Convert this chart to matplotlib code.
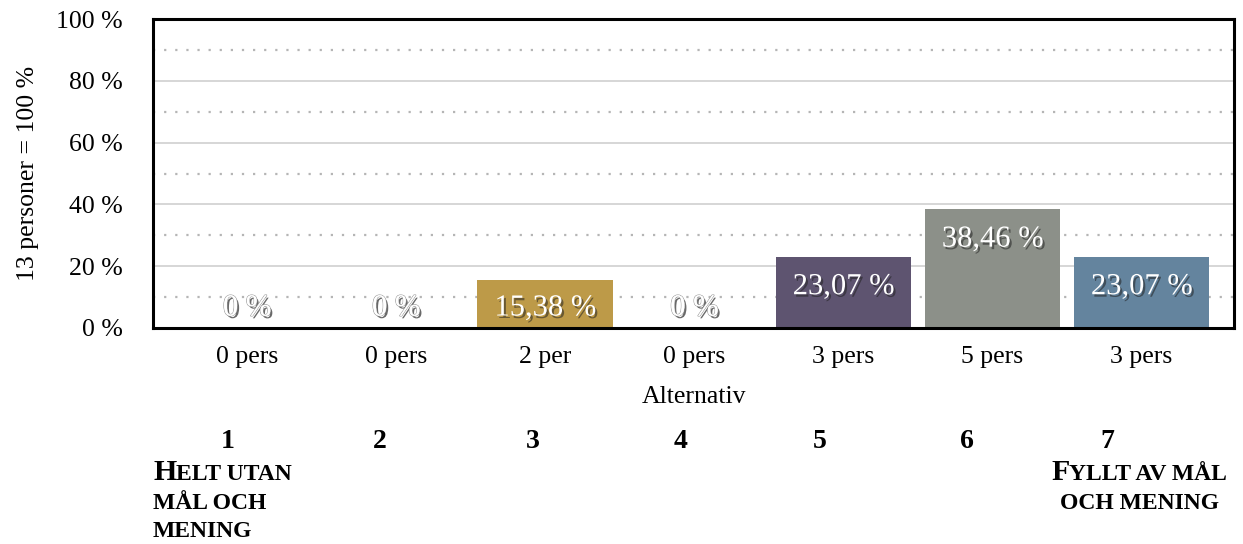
import matplotlib
matplotlib.use("Agg")
import matplotlib.pyplot as plt
import matplotlib.patheffects as pe
from matplotlib.offsetbox import TextArea, HPacker, VPacker, AnnotationBbox

plt.rcParams['font.family'] = ['Liberation Serif', 'DejaVu Serif']

categories = ["0 pers", "0 pers", "2 per", "0 pers", "3 pers", "5 pers", "3 pers"]
values = [0, 0, 15.38, 0, 23.07, 38.46, 23.07]
value_labels = ["0 %", "0 %", "15,38 %", "0 %", "23,07 %", "38,46 %", "23,07 %"]
colors = ["#BD9A48", "#BD9A48", "#BD9A48", "#5E5470", "#5E5470", "#8C9089", "#64849E"]
yticks = [0, 20, 40, 60, 80, 100]
ytick_labels = ["0 %", "20 %", "40 %", "60 %", "80 %", "100 %"]
scale_numbers = ["1", "2", "3", "4", "5", "6", "7"]
scale_x_px = [228, 380, 533, 681, 820, 967, 1107]

W, H = 1243, 544
fig = plt.figure(figsize=(W / 100, H / 100), dpi=100)
ax_h_px = 328 - 19
ax = fig.add_axes([153 / W, 1 - 328 / H, (1234 - 153) / W, ax_h_px / H])

x = list(range(len(categories)))
ax.bar(x, values, width=0.91, color=colors, zorder=3)
ax.set_xlim(-0.63, 6.62)
ax.set_ylim(0, 100)

ax.set_yticks(yticks)
ax.set_yticklabels(ytick_labels, fontsize=18.5)
ax.set_xticks(x)
ax.set_xticklabels(categories, fontsize=18.5)
ax.tick_params(length=0, pad=13)
ax.tick_params(axis='y', pad=22)

for v in [20, 40, 60, 80]:
    ax.axhline(v, color="#cfcfcf", lw=1.2, zorder=1)
for v in [10, 30, 50, 70, 90]:
    ax.axhline(v, color="#b5b5b5", lw=1.6, ls=(0, (1, 4)), zorder=1)

for s in ax.spines.values():
    s.set_linewidth(2.2)
    s.set_color("black")
    s.set_zorder(5)

ax.set_xlabel("Alternativ", fontsize=18.5, labelpad=13)
ax.set_ylabel("13 personer = 100 %", fontsize=18.5, labelpad=12)

shadow = [pe.withSimplePatchShadow(offset=(1.5, -1.8), shadow_rgbFace="#222222", alpha=0.55)]
zshadow = [pe.withSimplePatchShadow(offset=(1.5, -1.8), shadow_rgbFace="#444444", alpha=0.8),
           pe.withStroke(linewidth=1.0, foreground="#9a9a9a"), pe.Normal()]
below_top = 30 / ax_h_px * 100   # label sits ~30 px below bar top
min_pos = 20 / ax_h_px * 100     # but at least ~20 px above the axis
for xi, v, lab in zip(x, values, value_labels):
    ypos = max(v - below_top, min_pos)
    ax.text(xi, ypos, lab, ha="center", va="center", color="white", fontsize=22,
            path_effects=shadow if v > 0 else zshadow, zorder=6)

for n, px in zip(scale_numbers, scale_x_px):
    fig.text(px / W, 1 - 442 / H, n, ha="center", va="center", fontsize=20,
             fontweight="bold")

BIG, SMALL = 21.5, 17


def sc_line(parts):
    kids = []
    for txt, big in parts:
        kids.append(TextArea(txt, textprops=dict(fontsize=BIG if big else SMALL,
                                                 fontweight="bold",
                                                 family=['Liberation Serif'])))
    return HPacker(children=kids, align="baseline", pad=0, sep=0)


left_box = VPacker(children=[
    sc_line([("H", True), ("ELT UTAN", False)]),
    sc_line([("MÅL OCH", False)]),
    sc_line([("MENING", False)]),
], align="left", pad=0, sep=5)
right_box = VPacker(children=[
    sc_line([("F", True), ("YLLT AV MÅL", False)]),
    sc_line([("OCH MENING", False)]),
], align="center", pad=0, sep=5)

ab1 = AnnotationBbox(left_box, (153 / W, 1 - 459 / H), xycoords="figure fraction",
                     box_alignment=(0, 1), frameon=False, pad=0)
ab2 = AnnotationBbox(right_box, (1139 / W, 1 - 459 / H), xycoords="figure fraction",
                     box_alignment=(0.5, 1), frameon=False, pad=0)
fig.add_artist(ab1)
fig.add_artist(ab2)

fig.savefig("out.png", dpi=100)
